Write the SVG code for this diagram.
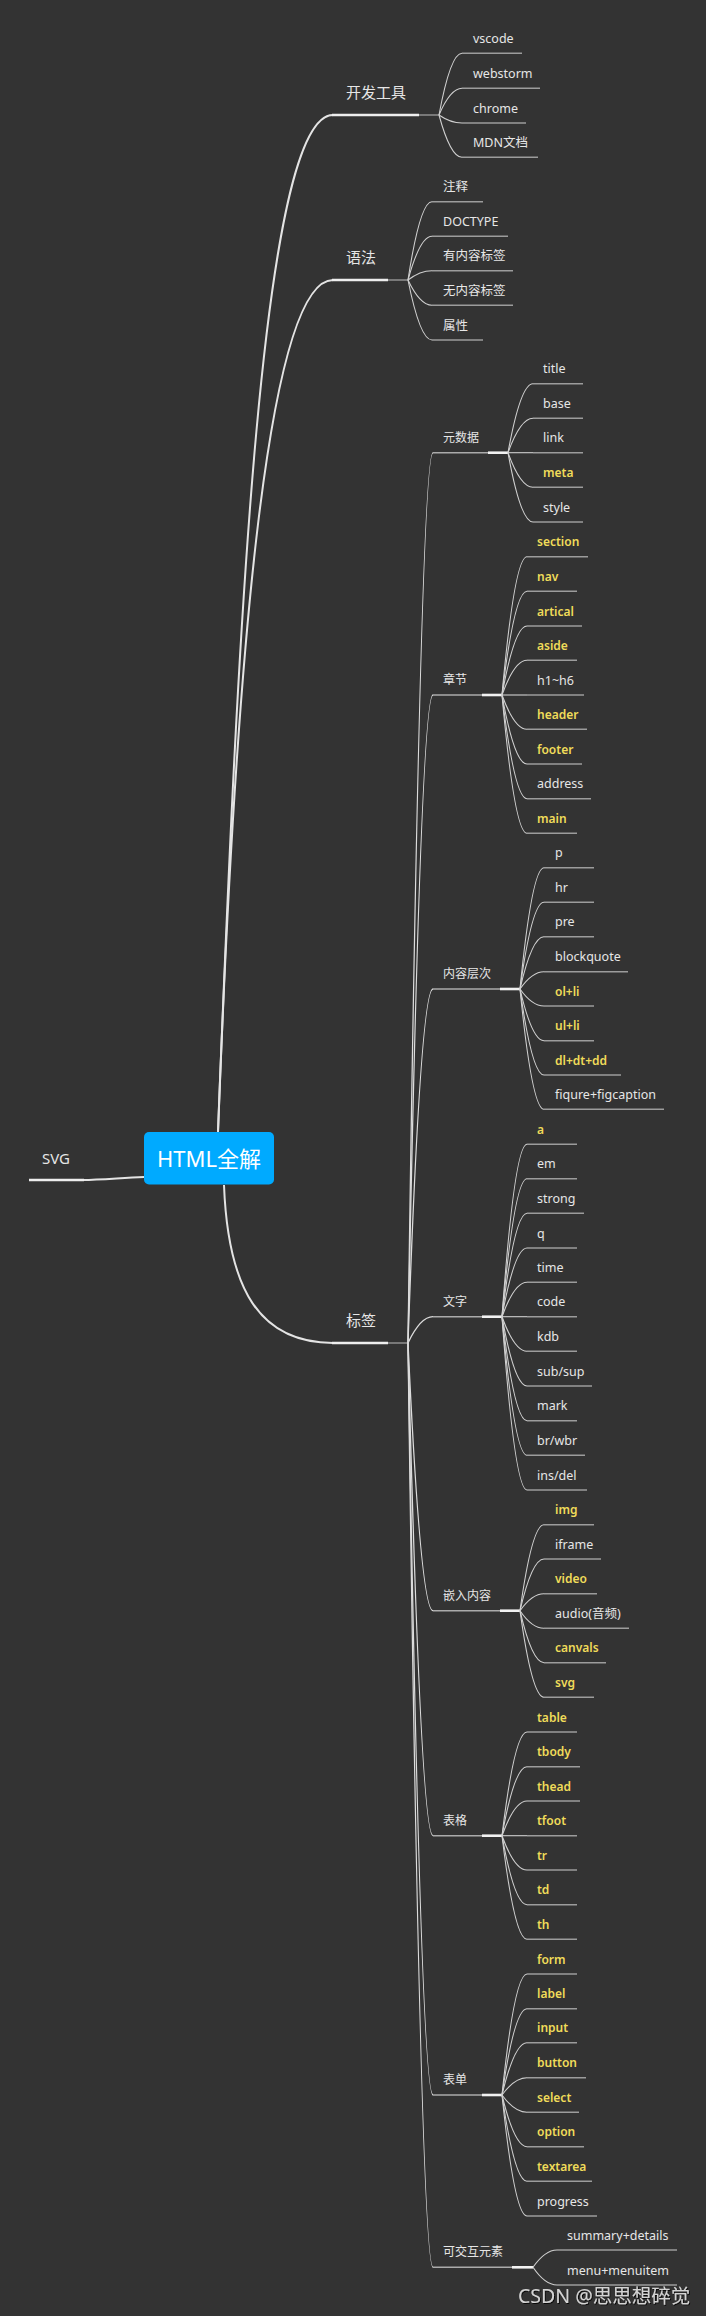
<svg xmlns="http://www.w3.org/2000/svg" width="706" height="2316" viewBox="0 0 706 2316">
<defs>
<style>
text{font-family:"Noto Sans","Noto Sans CJK SC",sans-serif;}
.l1{font-size:15px;fill:#e6e6e6;}
.l2{font-size:12px;fill:#e6e6e6;}
.lf{font-size:12.5px;fill:#e6e6e6;}
.y{fill:#f0dc5a;font-weight:600;font-size:12px;}
.c0{fill:none;stroke:#e4e4e4;stroke-width:2;}
.u1{stroke:#eeeeee;stroke-width:2.6;}
.t1{stroke:#a8a8a8;stroke-width:1.2;}
.cl{fill:none;stroke:#d0d0d0;stroke-width:1.1;}
.c2{fill:none;stroke:#dcdcdc;stroke-width:1.3;}
.ul{stroke:#9c9c9c;stroke-width:1.6;}
.u2{stroke:#ababab;stroke-width:1.5;}
.w2{stroke:#f2f2f2;stroke-width:2.6;}
</style>
<filter id="sh" x="-5%" y="-20%" width="110%" height="140%"><feDropShadow dx="1" dy="1" stdDeviation="0.6" flood-color="#000" flood-opacity="0.8"/></filter>
</defs>
<rect width="706" height="2316" fill="#333333"/>

<g id="connectors">
<path class="c0" d="M218 1132 C238 620,262 115,333 115"/>
<path class="c0" d="M218 1132 C236 650,268 280,333 280"/>
<path class="c0" d="M224 1185 C228 1290,260 1343,333 1343"/>
<path class="c0" d="M144 1177 C120 1178,100 1180,83 1180" stroke="#bdbdbd" stroke-width="1.6"/>
<line class="t1" x1="419" y1="115" x2="439" y2="115"/>
<line class="t1" x1="388" y1="280" x2="408" y2="280"/>
<line class="t1" x1="388" y1="1343" x2="408" y2="1343"/>
<path class="cl" d="M439 115 Q450.5 53.3 462 53.3"/>
<path class="cl" d="M439 115 Q450.5 88.3 462 88.3"/>
<path class="cl" d="M439 115 Q450.5 123 462 123"/>
<path class="cl" d="M439 115 Q450.5 157.3 462 157.3"/>
<path class="cl" d="M408 280 Q420 201.7 432 201.7"/>
<path class="cl" d="M408 280 Q420 236.3 432 236.3"/>
<path class="cl" d="M408 280 Q420 270.7 432 270.7"/>
<path class="cl" d="M408 280 Q420 305.3 432 305.3"/>
<path class="cl" d="M408 280 Q420 340 432 340"/>
<path class="c2" d="M408 1343 Q420.5 452.7 433 452.7"/>
<path class="c2" d="M408 1343 Q420.5 695 433 695"/>
<path class="c2" d="M408 1343 Q420.5 989 433 989"/>
<path class="c2" d="M408 1343 Q420.5 1316.7 433 1316.7"/>
<path class="c2" d="M408 1343 Q420.5 1610.7 433 1610.7"/>
<path class="c2" d="M408 1343 Q420.5 1835.7 433 1835.7"/>
<path class="c2" d="M408 1343 Q420.5 2095 433 2095"/>
<path class="c2" d="M408 1343 Q420.5 2267.3 433 2267.3"/>
<line class="w2" x1="488" y1="452.7" x2="508" y2="452.7"/>
<line class="w2" x1="482" y1="695" x2="502" y2="695"/>
<line class="w2" x1="500" y1="989" x2="520" y2="989"/>
<line class="w2" x1="482" y1="1316.7" x2="502" y2="1316.7"/>
<line class="w2" x1="500" y1="1610.7" x2="520" y2="1610.7"/>
<line class="w2" x1="482" y1="1835.7" x2="502" y2="1835.7"/>
<line class="w2" x1="482" y1="2095" x2="502" y2="2095"/>
<line class="w2" x1="512" y1="2267.3" x2="533" y2="2267.3"/>
<path class="cl" d="M508 452.7 Q520.5 383.7 533 383.7"/>
<path class="cl" d="M508 452.7 Q520.5 418.3 533 418.3"/>
<path class="cl" d="M508 452.7 L533 452.7"/>
<path class="cl" d="M508 452.7 Q520.5 487.3 533 487.3"/>
<path class="cl" d="M508 452.7 Q520.5 522 533 522"/>
<path class="cl" d="M502 695 Q514.5 556.7 527 556.7"/>
<path class="cl" d="M502 695 Q514.5 591.3 527 591.3"/>
<path class="cl" d="M502 695 Q514.5 626 527 626"/>
<path class="cl" d="M502 695 Q514.5 660.3 527 660.3"/>
<path class="cl" d="M502 695 L527 695"/>
<path class="cl" d="M502 695 Q514.5 729.3 527 729.3"/>
<path class="cl" d="M502 695 Q514.5 764 527 764"/>
<path class="cl" d="M502 695 Q514.5 798.7 527 798.7"/>
<path class="cl" d="M502 695 Q514.5 833.3 527 833.3"/>
<path class="cl" d="M520 989 Q532 867.7 544 867.7"/>
<path class="cl" d="M520 989 Q532 902.3 544 902.3"/>
<path class="cl" d="M520 989 Q532 936.7 544 936.7"/>
<path class="cl" d="M520 989 Q532 971.7 544 971.7"/>
<path class="cl" d="M520 989 Q532 1006 544 1006"/>
<path class="cl" d="M520 989 Q532 1040.7 544 1040.7"/>
<path class="cl" d="M520 989 Q532 1075 544 1075"/>
<path class="cl" d="M520 989 Q532 1109.3 544 1109.3"/>
<path class="cl" d="M502 1316.7 Q514.5 1144.3 527 1144.3"/>
<path class="cl" d="M502 1316.7 Q514.5 1178.7 527 1178.7"/>
<path class="cl" d="M502 1316.7 Q514.5 1213.3 527 1213.3"/>
<path class="cl" d="M502 1316.7 Q514.5 1248 527 1248"/>
<path class="cl" d="M502 1316.7 Q514.5 1282.3 527 1282.3"/>
<path class="cl" d="M502 1316.7 L527 1316.7"/>
<path class="cl" d="M502 1316.7 Q514.5 1351.3 527 1351.3"/>
<path class="cl" d="M502 1316.7 Q514.5 1386 527 1386"/>
<path class="cl" d="M502 1316.7 Q514.5 1420.7 527 1420.7"/>
<path class="cl" d="M502 1316.7 Q514.5 1455.3 527 1455.3"/>
<path class="cl" d="M502 1316.7 Q514.5 1490 527 1490"/>
<path class="cl" d="M520 1610.7 Q532 1524.7 544 1524.7"/>
<path class="cl" d="M520 1610.7 Q532 1559 544 1559"/>
<path class="cl" d="M520 1610.7 Q532 1593.7 544 1593.7"/>
<path class="cl" d="M520 1610.7 Q532 1628.3 544 1628.3"/>
<path class="cl" d="M520 1610.7 Q532 1662.7 544 1662.7"/>
<path class="cl" d="M520 1610.7 Q532 1697.3 544 1697.3"/>
<path class="cl" d="M502 1835.7 Q514.5 1732 527 1732"/>
<path class="cl" d="M502 1835.7 Q514.5 1766.7 527 1766.7"/>
<path class="cl" d="M502 1835.7 Q514.5 1801 527 1801"/>
<path class="cl" d="M502 1835.7 L527 1835.7"/>
<path class="cl" d="M502 1835.7 Q514.5 1870 527 1870"/>
<path class="cl" d="M502 1835.7 Q514.5 1904.7 527 1904.7"/>
<path class="cl" d="M502 1835.7 Q514.5 1939.3 527 1939.3"/>
<path class="cl" d="M502 2095 Q514.5 1974 527 1974"/>
<path class="cl" d="M502 2095 Q514.5 2008.7 527 2008.7"/>
<path class="cl" d="M502 2095 Q514.5 2042.7 527 2042.7"/>
<path class="cl" d="M502 2095 Q514.5 2077.7 527 2077.7"/>
<path class="cl" d="M502 2095 Q514.5 2112.3 527 2112.3"/>
<path class="cl" d="M502 2095 Q514.5 2146.7 527 2146.7"/>
<path class="cl" d="M502 2095 Q514.5 2181.3 527 2181.3"/>
<path class="cl" d="M502 2095 Q514.5 2216 527 2216"/>
<path class="cl" d="M533 2267.3 Q545 2250 557 2250"/>
<path class="cl" d="M533 2267.3 Q545 2285 557 2285"/>
</g>

<g id="root">
<rect x="144" y="1132" width="130" height="52.5" rx="5" fill="#00aaff"/>
<text x="209" y="1166.5" text-anchor="middle" font-size="22" fill="#ffffff">HTML全解</text>
</g>

<g id="n-svg"><text class="l1" x="42" y="1164">SVG</text><line class="u1" x1="29" y1="1180" x2="84" y2="1180"/></g>
<g id="n-kaifa"><text class="l1" x="346" y="98">开发工具</text><line class="u1" x1="332" y1="115" x2="419" y2="115"/></g>
<g id="n-yufa"><text class="l1" x="346" y="263">语法</text><line class="u1" x1="332" y1="280" x2="388" y2="280"/></g>
<g id="n-biaoqian"><text class="l1" x="346" y="1326">标签</text><line class="u1" x1="332" y1="1343" x2="388" y2="1343"/></g>

<g id="n-vscode"><text class="lf" x="473" y="42.8">vscode</text><line class="ul" x1="462" y1="53.3" x2="522" y2="53.3"/></g>
<g id="n-webstorm"><text class="lf" x="473" y="77.8">webstorm</text><line class="ul" x1="462" y1="88.3" x2="540" y2="88.3"/></g>
<g id="n-chrome"><text class="lf" x="473" y="112.5">chrome</text><line class="ul" x1="462" y1="123" x2="526" y2="123"/></g>
<g id="n-mdn"><text class="lf" x="473" y="146.8">MDN文档</text><line class="ul" x1="462" y1="157.3" x2="538" y2="157.3"/></g>

<g id="n-zhushi"><text class="lf" x="443" y="191.2">注释</text><line class="ul" x1="432" y1="201.7" x2="483" y2="201.7"/></g>
<g id="n-doctype"><text class="lf" x="443" y="225.8">DOCTYPE</text><line class="ul" x1="432" y1="236.3" x2="508" y2="236.3"/></g>
<g id="n-younr"><text class="lf" x="443" y="260.2">有内容标签</text><line class="ul" x1="432" y1="270.7" x2="513" y2="270.7"/></g>
<g id="n-wunr"><text class="lf" x="443" y="294.8">无内容标签</text><line class="ul" x1="432" y1="305.3" x2="513" y2="305.3"/></g>
<g id="n-shuxing"><text class="lf" x="443" y="329.5">属性</text><line class="ul" x1="432" y1="340" x2="483" y2="340"/></g>

<g id="n-yuanshuju"><text class="l2" x="443" y="441.7">元数据</text><line class="u2" x1="433" y1="452.7" x2="488" y2="452.7"/></g>
<g id="n-zhangjie"><text class="l2" x="443" y="684">章节</text><line class="u2" x1="433" y1="695" x2="482" y2="695"/></g>
<g id="n-neirong"><text class="l2" x="443" y="978">内容层次</text><line class="u2" x1="433" y1="989" x2="500" y2="989"/></g>
<g id="n-wenzi"><text class="l2" x="443" y="1305.7">文字</text><line class="u2" x1="433" y1="1316.7" x2="482" y2="1316.7"/></g>
<g id="n-qianru"><text class="l2" x="443" y="1599.7">嵌入内容</text><line class="u2" x1="433" y1="1610.7" x2="500" y2="1610.7"/></g>
<g id="n-biaoge"><text class="l2" x="443" y="1824.7">表格</text><line class="u2" x1="433" y1="1835.7" x2="482" y2="1835.7"/></g>
<g id="n-biaodan"><text class="l2" x="443" y="2084">表单</text><line class="u2" x1="433" y1="2095" x2="482" y2="2095"/></g>
<g id="n-jiaohu"><text class="l2" x="443" y="2256.3">可交互元素</text><line class="u2" x1="433" y1="2267.3" x2="512" y2="2267.3"/></g>

<g id="n-title"><text class="lf" x="543" y="373.2">title</text><line class="ul" x1="533" y1="383.7" x2="583" y2="383.7"/></g>
<g id="n-base"><text class="lf" x="543" y="407.8">base</text><line class="ul" x1="533" y1="418.3" x2="583" y2="418.3"/></g>
<g id="n-link"><text class="lf" x="543" y="442.2">link</text><line class="ul" x1="533" y1="452.7" x2="583" y2="452.7"/></g>
<g id="n-meta"><text class="lf y" x="543" y="476.8">meta</text><line class="ul" x1="533" y1="487.3" x2="583" y2="487.3"/></g>
<g id="n-style"><text class="lf" x="543" y="511.5">style</text><line class="ul" x1="533" y1="522" x2="583" y2="522"/></g>

<g id="n-section"><text class="lf y" x="537" y="546.2">section</text><line class="ul" x1="527" y1="556.7" x2="588" y2="556.7"/></g>
<g id="n-nav"><text class="lf y" x="537" y="580.8">nav</text><line class="ul" x1="527" y1="591.3" x2="577" y2="591.3"/></g>
<g id="n-artical"><text class="lf y" x="537" y="615.5">artical</text><line class="ul" x1="527" y1="626" x2="582" y2="626"/></g>
<g id="n-aside"><text class="lf y" x="537" y="649.8">aside</text><line class="ul" x1="527" y1="660.3" x2="577" y2="660.3"/></g>
<g id="n-h1h6"><text class="lf" x="537" y="684.5">h1~h6</text><line class="ul" x1="527" y1="695" x2="584" y2="695"/></g>
<g id="n-header"><text class="lf y" x="537" y="718.8">header</text><line class="ul" x1="527" y1="729.3" x2="587" y2="729.3"/></g>
<g id="n-footer"><text class="lf y" x="537" y="753.5">footer</text><line class="ul" x1="527" y1="764" x2="582" y2="764"/></g>
<g id="n-address"><text class="lf" x="537" y="788.2">address</text><line class="ul" x1="527" y1="798.7" x2="591" y2="798.7"/></g>
<g id="n-main"><text class="lf y" x="537" y="822.8">main</text><line class="ul" x1="527" y1="833.3" x2="577" y2="833.3"/></g>

<g id="n-p"><text class="lf" x="555" y="857.2">p</text><line class="ul" x1="544" y1="867.7" x2="594" y2="867.7"/></g>
<g id="n-hr"><text class="lf" x="555" y="891.8">hr</text><line class="ul" x1="544" y1="902.3" x2="594" y2="902.3"/></g>
<g id="n-pre"><text class="lf" x="555" y="926.2">pre</text><line class="ul" x1="544" y1="936.7" x2="594" y2="936.7"/></g>
<g id="n-blockquote"><text class="lf" x="555" y="961.2">blockquote</text><line class="ul" x1="544" y1="971.7" x2="628" y2="971.7"/></g>
<g id="n-olli"><text class="lf y" x="555" y="995.5">ol+li</text><line class="ul" x1="544" y1="1006" x2="594" y2="1006"/></g>
<g id="n-ulli"><text class="lf y" x="555" y="1030.2">ul+li</text><line class="ul" x1="544" y1="1040.7" x2="594" y2="1040.7"/></g>
<g id="n-dl"><text class="lf y" x="555" y="1064.5">dl+dt+dd</text><line class="ul" x1="544" y1="1075" x2="621" y2="1075"/></g>
<g id="n-figure"><text class="lf" x="555" y="1098.8">fiqure+figcaption</text><line class="ul" x1="544" y1="1109.3" x2="664" y2="1109.3"/></g>

<g id="n-a"><text class="lf y" x="537" y="1133.8">a</text><line class="ul" x1="527" y1="1144.3" x2="577" y2="1144.3"/></g>
<g id="n-em"><text class="lf" x="537" y="1168.2">em</text><line class="ul" x1="527" y1="1178.7" x2="577" y2="1178.7"/></g>
<g id="n-strong"><text class="lf" x="537" y="1202.8">strong</text><line class="ul" x1="527" y1="1213.3" x2="584" y2="1213.3"/></g>
<g id="n-q"><text class="lf" x="537" y="1237.5">q</text><line class="ul" x1="527" y1="1248" x2="577" y2="1248"/></g>
<g id="n-time"><text class="lf" x="537" y="1271.8">time</text><line class="ul" x1="527" y1="1282.3" x2="577" y2="1282.3"/></g>
<g id="n-code"><text class="lf" x="537" y="1306.2">code</text><line class="ul" x1="527" y1="1316.7" x2="577" y2="1316.7"/></g>
<g id="n-kdb"><text class="lf" x="537" y="1340.8">kdb</text><line class="ul" x1="527" y1="1351.3" x2="577" y2="1351.3"/></g>
<g id="n-subsup"><text class="lf" x="537" y="1375.5">sub/sup</text><line class="ul" x1="527" y1="1386" x2="592" y2="1386"/></g>
<g id="n-mark"><text class="lf" x="537" y="1410.2">mark</text><line class="ul" x1="527" y1="1420.7" x2="577" y2="1420.7"/></g>
<g id="n-brwbr"><text class="lf" x="537" y="1444.8">br/wbr</text><line class="ul" x1="527" y1="1455.3" x2="585" y2="1455.3"/></g>
<g id="n-insdel"><text class="lf" x="537" y="1479.5">ins/del</text><line class="ul" x1="527" y1="1490" x2="587" y2="1490"/></g>

<g id="n-img"><text class="lf y" x="555" y="1514.2">img</text><line class="ul" x1="544" y1="1524.7" x2="594" y2="1524.7"/></g>
<g id="n-iframe"><text class="lf" x="555" y="1548.5">iframe</text><line class="ul" x1="544" y1="1559" x2="601" y2="1559"/></g>
<g id="n-video"><text class="lf y" x="555" y="1583.2">video</text><line class="ul" x1="544" y1="1593.7" x2="597" y2="1593.7"/></g>
<g id="n-audio"><text class="lf" x="555" y="1617.8">audio(音频)</text><line class="ul" x1="544" y1="1628.3" x2="629" y2="1628.3"/></g>
<g id="n-canvals"><text class="lf y" x="555" y="1652.2">canvals</text><line class="ul" x1="544" y1="1662.7" x2="606" y2="1662.7"/></g>
<g id="n-svgtag"><text class="lf y" x="555" y="1686.8">svg</text><line class="ul" x1="544" y1="1697.3" x2="594" y2="1697.3"/></g>

<g id="n-table"><text class="lf y" x="537" y="1721.5">table</text><line class="ul" x1="527" y1="1732" x2="577" y2="1732"/></g>
<g id="n-tbody"><text class="lf y" x="537" y="1756.2">tbody</text><line class="ul" x1="527" y1="1766.7" x2="580" y2="1766.7"/></g>
<g id="n-thead"><text class="lf y" x="537" y="1790.5">thead</text><line class="ul" x1="527" y1="1801" x2="580" y2="1801"/></g>
<g id="n-tfoot"><text class="lf y" x="537" y="1825.2">tfoot</text><line class="ul" x1="527" y1="1835.7" x2="577" y2="1835.7"/></g>
<g id="n-tr"><text class="lf y" x="537" y="1859.5">tr</text><line class="ul" x1="527" y1="1870" x2="577" y2="1870"/></g>
<g id="n-td"><text class="lf y" x="537" y="1894.2">td</text><line class="ul" x1="527" y1="1904.7" x2="577" y2="1904.7"/></g>
<g id="n-th"><text class="lf y" x="537" y="1928.8">th</text><line class="ul" x1="527" y1="1939.3" x2="577" y2="1939.3"/></g>

<g id="n-form"><text class="lf y" x="537" y="1963.5">form</text><line class="ul" x1="527" y1="1974" x2="577" y2="1974"/></g>
<g id="n-label"><text class="lf y" x="537" y="1998.2">label</text><line class="ul" x1="527" y1="2008.7" x2="577" y2="2008.7"/></g>
<g id="n-input"><text class="lf y" x="537" y="2032.2">input</text><line class="ul" x1="527" y1="2042.7" x2="577" y2="2042.7"/></g>
<g id="n-button"><text class="lf y" x="537" y="2067.2">button</text><line class="ul" x1="527" y1="2077.7" x2="586" y2="2077.7"/></g>
<g id="n-select"><text class="lf y" x="537" y="2101.8">select</text><line class="ul" x1="527" y1="2112.3" x2="579" y2="2112.3"/></g>
<g id="n-option"><text class="lf y" x="537" y="2136.2">option</text><line class="ul" x1="527" y1="2146.7" x2="584" y2="2146.7"/></g>
<g id="n-textarea"><text class="lf y" x="537" y="2170.8">textarea</text><line class="ul" x1="527" y1="2181.3" x2="592" y2="2181.3"/></g>
<g id="n-progress"><text class="lf" x="537" y="2205.5">progress</text><line class="ul" x1="527" y1="2216" x2="597" y2="2216"/></g>

<g id="n-summary"><text class="lf" x="567" y="2239.5">summary+details</text><line class="ul" x1="557" y1="2250" x2="677" y2="2250"/></g>
<g id="n-menu"><text class="lf" x="567" y="2274.5">menu+menuitem</text><line class="ul" x1="557" y1="2285" x2="677" y2="2285"/></g>

<text x="518" y="2303" font-size="19.5" fill="#d4d4d4" filter="url(#sh)">CSDN @思思想碎觉</text>
</svg>
